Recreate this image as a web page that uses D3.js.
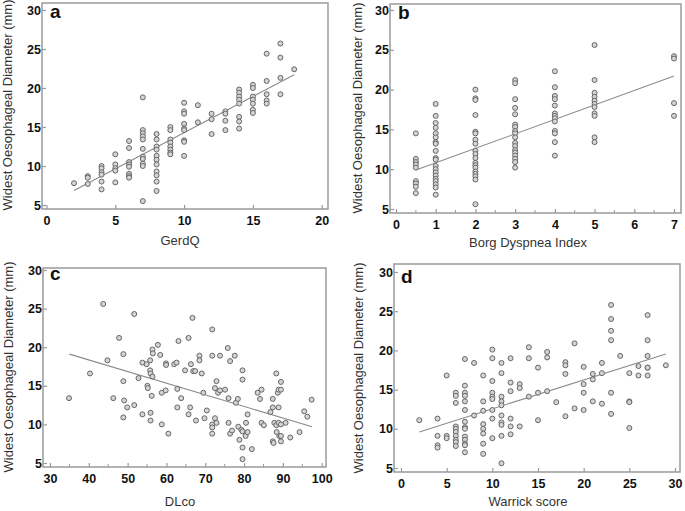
<!DOCTYPE html>
<html>
<head>
<meta charset="utf-8">
<script src="https://cdn.jsdelivr.net/npm/d3@7"></script>
<style>
  body { margin: 0; background: #fff; }
  svg { display: block; font-family: "Liberation Sans", Arial, sans-serif; }
  .tick text { font-weight: 700; }
</style>
</head>
<body>
<div class="chart"></div>
<script>
// ---- data ----

// a: GerdQ vs widest oesophageal diameter
const gerdqPoints = [
  [2,7.8],
  [3,8.7],[3,8.5],[3,7.7],
  [4,10.0],[4,9.7],[4,9.2],[4,8.9],[4,8.0],[4,7.0],
  [5,11.5],[5,10.2],[5,9.7],[5,9.4],[5,7.9],
  [6,13.2],[6,12.3],[6,10.5],[6,10.2],[6,9.9],[6,9.0],[6,8.7],[6,8.5],
  [7,18.8],[7,14.6],[7,14.2],[7,13.8],[7,13.4],[7,12.2],[7,11.2],[7,10.9],[7,10.3],[7,10.0],[7,5.5],
  [8,14.1],[8,13.4],[8,12.5],[8,12.1],[8,11.3],[8,10.8],[8,10.2],[8,9.3],[8,8.8],[8,8.0],[8,6.8],
  [9,15.0],[9,14.6],[9,13.4],[9,13.0],[9,12.5],[9,12.1],[9,11.7],[9,11.5],
  [10,18.1],[10,17.0],[10,16.7],[10,15.4],[10,14.8],[10,14.6],[10,13.3],[10,13.1],[10,11.3],
  [11,17.8],[11,15.6],
  [12,16.7],[12,16.0],[12,14.1],
  [13,17.0],[13,16.7],[13,15.8],[13,14.6],
  [14,19.8],[14,19.4],[14,18.9],[14,18.5],[14,18.0],[14,16.3],[14,15.7],[14,14.8],
  [15,20.4],[15,20.0],[15,18.9],[15,18.5],[15,18.0],[15,17.2],[15,16.8],
  [16,24.4],[16,20.9],[16,19.2],[16,18.4],[16,18.0],
  [17,25.7],[17,23.9],[17,21.3],[17,19.2],
  [18,22.4]
];
const gerdqFit = [[2, 6.85], [18, 21.7]];

// b: Borg dyspnea index
const borgPoints = [
  [0.5,14.5],[0.5,11.3],[0.5,10.9],[0.5,10.6],[0.5,10.2],[0.5,8.5],[0.5,8.2],[0.5,7.8],[0.5,7.0],
  [1,18.2],[1,16.7],[1,15.8],[1,15.2],[1,14.5],[1,14.0],[1,13.4],[1,13.2],[1,12.3],[1,11.4],[1,11.2],
  [1,10.4],[1,10.0],[1,9.6],[1,9.2],[1,8.8],[1,8.5],[1,8.1],[1,7.7],[1,6.8],
  [2,20.0],[2,18.9],[2,18.7],[2,16.8],[2,14.7],[2,14.5],[2,13.7],[2,13.2],[2,12.3],[2,11.9],[2,11.4],
  [2,10.8],[2,10.5],[2,10.2],[2,9.7],[2,9.4],[2,9.1],[2,8.7],[2,5.6],
  [3,21.2],[3,20.8],[3,18.8],[3,17.7],[3,16.9],[3,15.6],[3,15.3],[3,14.8],[3,14.5],[3,14.0],[3,13.3],
  [3,12.9],[3,12.4],[3,12.1],[3,11.7],[3,11.3],[3,10.9],[3,10.2],
  [4,22.3],[4,20.3],[4,19.2],[4,18.8],[4,18.0],[4,17.0],[4,16.7],[4,16.4],[4,16.0],[4,14.8],[4,14.5],
  [4,13.4],[4,11.7],
  [5,25.6],[5,21.2],[5,19.6],[5,19.1],[5,18.6],[5,18.2],[5,17.8],[5,17.0],[5,16.7],[5,14.0],[5,13.4],
  [7,24.2],[7,23.9],[7,18.3],[7,16.7]
];
const borgFit = [[0.5, 9.9], [7, 21.7]];

// c: DLco
const dlcoPoints = [
  [34.9,13.4],[40.3,16.6],[43.7,25.6],[44.8,18.3],[46.3,13.4],[47.8,21.2],[48.9,19.1],[48.9,15.6],
  [49.1,13.1],[48.9,10.9],[49.9,12.2],[51.7,24.3],[51.7,12.5],[52.8,16.0],[53.8,18.0],[53.8,11.3],
  [54.9,17.8],[55.1,15.0],[55.2,14.7],[55.8,18.3],[55.8,17.0],[55.9,16.6],[55.9,11.5],[55.9,10.5],
  [56.4,19.7],[56.5,19.2],[56.4,16.2],[56.2,13.7],[57.8,20.3],[58.4,19.0],[58.8,14.1],[58.8,10.0],
  [59.8,14.4],[59.9,17.9],[59.9,17.7],[60.5,8.8],[62.0,17.8],[62.6,18.0],[62.8,14.6],[62.8,12.2],
  [63.1,20.8],[63.8,13.4],[64.8,17.0],[65.7,21.2],[65.7,11.3],[66.1,12.2],[66.3,17.8],[66.7,23.8],
  [66.9,16.9],[67.4,16.9],[67.6,10.5],[68.5,18.9],[68.5,18.3],[69.1,16.6],[69.5,14.1],[69.8,10.8],
  [70.4,11.8],[71.8,22.3],[71.8,18.9],[71.8,10.0],[71.8,9.6],[71.8,8.8],[72.5,10.8],[72.5,14.7],
  [72.9,15.6],[72.9,10.2],[73.3,14.1],[73.8,18.9],[73.8,14.4],[75.1,14.5],[75.8,19.9],[76.0,13.4],
  [76.0,10.2],[76.4,18.2],[76.4,8.8],[76.9,9.2],[77.6,18.9],[77.9,12.8],[78.4,13.3],[78.5,9.7],
  [78.8,8.0],[79.3,9.3],[79.6,9.1],[79.6,15.8],[79.6,17.0],[79.6,7.0],[79.6,5.5],[80.4,8.5],
  [80.5,10.2],[80.9,11.3],[80.9,9.0],[82.0,6.8],[83.5,14.1],[84.1,13.3],[84.5,14.5],[84.5,10.2],
  [85.1,9.9],[86.8,11.6],[87.4,13.3],[87.4,12.2],[87.4,7.8],[87.6,7.6],[87.8,10.2],[88.3,16.6],
  [88.3,9.9],[88.4,9.0],[88.7,14.1],[88.9,14.5],[88.9,12.2],[88.9,10.2],[89.1,8.5],[89.5,15.5],
  [89.5,14.5],[89.5,10.0],[89.5,8.5],[89.5,7.8],[90.7,10.2],[91.9,8.3],[94.3,9.0],[95.5,11.7],
  [96.3,11.0],[97.4,13.2]
];
const dlcoFit = [[35, 19.1], [97.5, 9.7]];

// d: Warrick score
const warrickPoints = [
  [2,11.1],
  [4,11.3],[4,9.1],[4,7.9],[4,7.6],
  [5,16.8],[5,9.1],[5,8.8],
  [6,14.6],[6,14.2],[6,13.3],[6,10.3],[6,10.0],[6,9.6],[6,9.1],[6,8.6],[6,8.3],[6,7.8],
  [7,18.9],[7,15.5],[7,14.6],[7,14.2],[7,13.5],[7,12.4],[7,10.9],[7,10.2],[7,10.0],[7,9.0],[7,8.6],
  [7,8.1],[7,7.9],[7,7.0],
  [8,18.4],[8,11.7],
  [9,16.8],[9,13.5],[9,12.3],[9,10.6],[9,10.0],[9,9.4],[9,8.1],[9,6.8],
  [10,20.1],[10,19.0],[10,16.1],[10,14.6],[10,14.1],[10,13.8],[10,12.4],[10,11.3],[10,8.8],
  [11,18.4],[11,17.1],[11,14.1],[11,13.5],[11,13.0],[11,11.7],[11,10.8],[11,10.5],[11,9.1],[11,5.6],
  [12,19.0],[12,15.9],[12,14.8],[12,11.3],[12,10.3],[12,9.3],
  [13,15.7],[13,15.2],[13,10.3],
  [14,20.4],[14,19.0],[14,14.1],
  [15,17.8],[15,14.6],[15,11.1],
  [16,19.8],[16,19.1],[16,14.8],
  [17,13.4],
  [18,18.5],[18,18.1],[18,17.0],[18,11.6],
  [19,20.9],[19,12.6],
  [20,17.9],[20,15.7],[20,14.6],[20,12.4],
  [21,17.0],[21,16.3],[21,13.5],
  [22,18.4],[22,17.1],[22,13.2],
  [23,25.8],[23,24.0],[23,22.5],[23,21.3],[23,14.6],[23,11.9],
  [24,19.3],
  [25,17.1],[25,13.5],[25,13.4],[25,10.1],
  [26,18.0],[26,16.8],
  [27,24.5],[27,21.3],[27,19.3],[27,17.8],[27,17.8],[27,16.8],
  [29,18.1]
];
const warrickFit = [[2, 9.6], [29, 19.55]];

const yTicks = [5, 10, 15, 20, 25, 30];
const yTitle = "Widest Oesophageal Diameter (mm)";

// ---- layout of the four panels ----

const width = 685, height = 511;

const panels = [
  { letter: "a", title: "GerdQ", points: gerdqPoints, fit: gerdqFit,
    box: [42, 328, 3, 209], xDom: [0, 20], xRange: [46.5, 321.7], yRange: [205, 10],
    xTicks: [0, 5, 10, 15, 20], minor: [],
    letterPos: [50, 18], yTitlePos: [12, 105], xTitlePos: [180, 245] },
  { letter: "b", title: "Borg Dyspnea Index", points: borgPoints, fit: borgFit,
    box: [390, 681, 4, 213], xDom: [0, 7], xRange: [396, 674], yRange: [209, 10],
    xTicks: [0, 1, 2, 3, 4, 5, 6, 7], minor: [0.5, 1.5, 2.5, 3.5, 4.5, 5.5, 6.5],
    letterPos: [398, 19], yTitlePos: [362, 108], xTitlePos: [528, 247] },
  { letter: "c", title: "DLco", points: dlcoPoints, fit: dlcoFit,
    box: [43, 326, 268, 467], xDom: [30, 100], xRange: [50, 321.7], yRange: [463, 270],
    xTicks: [30, 40, 50, 60, 70, 80, 90, 100], minor: [35, 45, 55, 65, 75, 85, 95],
    letterPos: [50, 280], yTitlePos: [13, 367], xTitlePos: [180, 506] },
  { letter: "d", title: "Warrick score", points: warrickPoints, fit: warrickFit,
    box: [394, 680, 264, 472], xDom: [0, 30], xRange: [401, 675], yRange: [468, 272],
    xTicks: [0, 5, 10, 15, 20, 25, 30], minor: [],
    letterPos: [401, 283], yTitlePos: [363, 368], xTitlePos: [528, 506] }
];

const svg = d3.select(".chart")
  .append("svg")
  .attr("width", width)
  .attr("height", height);

const grey = "#9a9a9a";
const fmt = d3.format("d");

panels.forEach(p => {
  const [l, r, t, b] = p.box;
  const x = d3.scaleLinear().domain(p.xDom).range(p.xRange);
  const y = d3.scaleLinear().domain([5, 30]).range(p.yRange);

  const g = svg.append("g");

  // plot frame
  g.append("rect")
    .attr("x", l).attr("y", t)
    .attr("width", r - l).attr("height", b - t)
    .attr("fill", "none")
    .attr("stroke", grey)
    .attr("stroke-width", 1.5);

  // x axis (ticks point inward)
  const xAxis = g.append("g")
    .attr("transform", `translate(0,${b})`)
    .call(d3.axisBottom(x).tickValues(p.xTicks).tickFormat(fmt)
      .tickSize(-4).tickSizeOuter(0).tickPadding(7));

  // minor x ticks
  g.append("g")
    .selectAll("line")
    .data(p.minor)
    .enter()
      .append("line")
      .attr("x1", d => x(d)).attr("x2", d => x(d))
      .attr("y1", b).attr("y2", b - 3)
      .attr("stroke", grey);

  // y axis
  const yAxis = g.append("g")
    .attr("transform", `translate(${l},0)`)
    .call(d3.axisLeft(y).tickValues(yTicks).tickFormat(fmt)
      .tickSize(-4).tickSizeOuter(0).tickPadding(1));

  [xAxis, yAxis].forEach(ax => {
    ax.attr("font-family", "'Liberation Sans', Arial, sans-serif")
      .attr("font-size", 12.5)
      .attr("font-weight", "bold");
    ax.select(".domain").remove();
    ax.selectAll(".tick line").attr("stroke", grey).attr("stroke-width", 1.2);
    ax.selectAll(".tick text").attr("fill", "#111");
  });

  // regression line
  g.append("line")
    .attr("x1", x(p.fit[0][0])).attr("y1", y(p.fit[0][1]))
    .attr("x2", x(p.fit[1][0])).attr("y2", y(p.fit[1][1]))
    .attr("stroke", "#8a8a8a")
    .attr("stroke-width", 1.1);

  // points
  g.append("g")
    .selectAll("circle")
    .data(p.points)
    .enter()
      .append("circle")
      .attr("cx", d => x(d[0]))
      .attr("cy", d => y(d[1]))
      .attr("r", 2.5)
      .attr("fill", "#d4d4d4")
      .attr("stroke", "#666")
      .attr("stroke-width", 1);

  // panel letter
  g.append("text")
    .attr("x", p.letterPos[0]).attr("y", p.letterPos[1])
    .attr("fill", "#111")
    .style("font-size", "19px")
    .style("font-weight", "bold")
    .text(p.letter);

  // axis titles
  g.append("text")
    .attr("transform", `translate(${p.yTitlePos[0]},${p.yTitlePos[1]}) rotate(-90)`)
    .attr("text-anchor", "middle")
    .attr("fill", "#333")
    .style("font-size", "13px")
    .text(yTitle);

  g.append("text")
    .attr("x", p.xTitlePos[0]).attr("y", p.xTitlePos[1])
    .attr("text-anchor", "middle")
    .attr("fill", "#333")
    .style("font-size", "13px")
    .text(p.title);
});
</script>
</body>
</html>
